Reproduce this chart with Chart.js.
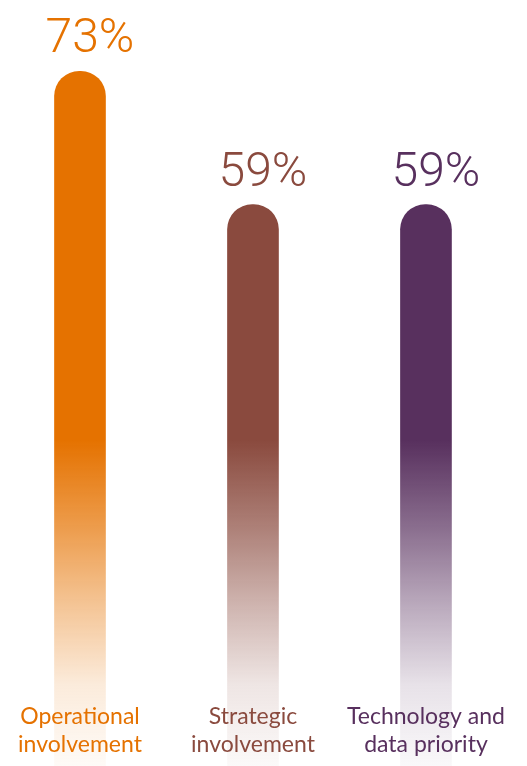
<!DOCTYPE html>
<html>
<head>
<meta charset="utf-8">
<script src="https://cdn.jsdelivr.net/npm/chart.js@4"></script>
<style>
  html, body { margin: 0; padding: 0; background: #fff; }
  #wrap { width: 527px; height: 766px; }
</style>
</head>
<body>
<div id="wrap"><canvas id="barChart"></canvas></div>
<script>
const categories = [['Operational', 'involvement'], ['Strategic', 'involvement'], ['Technology and', 'data priority']];
const values = [73, 59, 59];
const valueLabels = ['73%', '59%', '59%'];
const colors = ['#E57200', '#8A4A3E', '#58305E'];

function hexToRgba(hex, a) {
    const n = parseInt(hex.slice(1), 16);
    return 'rgba(' + (n >> 16) + ',' + ((n >> 8) & 255) + ',' + (n & 255) + ',' + a + ')';
}

// bars stay solid down to roughly the middle of the canvas, then fade out
function fadeFill(context) {
    const chart = context.chart;
    const area = chart.chartArea;
    if (!area) return colors[context.dataIndex];
    const c = colors[context.dataIndex];
    const start = area.top + (area.bottom - area.top) * 0.575;
    const g = chart.ctx.createLinearGradient(0, start, 0, area.bottom);
    g.addColorStop(0, hexToRgba(c, 1));
    g.addColorStop(0.25, hexToRgba(c, 0.72));
    g.addColorStop(0.5, hexToRgba(c, 0.42));
    g.addColorStop(0.75, hexToRgba(c, 0.14));
    g.addColorStop(1, hexToRgba(c, 0.03));
    return g;
}

const labelPlugin = {
    id: 'labelPlugin',
    afterDatasetsDraw(chart) {
        const ctx = chart.ctx;
        const meta = chart.getDatasetMeta(0);
        const area = chart.chartArea;
        ctx.save();
        meta.data.forEach((bar, i) => {
            // value above the bar
            ctx.fillStyle = colors[i];
            ctx.font = '300 48px Roboto';
            ctx.textAlign = 'center';
            ctx.textBaseline = 'alphabetic';
            ctx.fillText(valueLabels[i], bar.x + 10, bar.y - 19);

            // category name at the bottom
            ctx.font = '400 23px Lato';
            ctx.textBaseline = 'middle';
            categories[i].forEach((line, j) => {
                ctx.fillText(line, bar.x, area.bottom - 49 + j * 28);
            });
        });
        ctx.restore();
    }
};

new Chart(document.getElementById('barChart'), {
    type: 'bar',
    data: {
        datasets: [{
            data: values.map((v, i) => ({ x: i, y: v })),
            backgroundColor: fadeFill,
            borderRadius: 25,
            borderSkipped: 'start',
            barThickness: 51
        }]
    },
    options: {
        responsive: true,
        maintainAspectRatio: false,
        animation: false,
        layout: { padding: 0 },
        plugins: {
            legend: { display: false },
            tooltip: { enabled: false }
        },
        scales: {
            x: { type: 'linear', offset: false, min: -0.4624, max: 2.584, display: false },
            y: { min: 0, max: 80.5, display: false }
        }
    },
    plugins: [labelPlugin]
});
</script>
</body>
</html>
